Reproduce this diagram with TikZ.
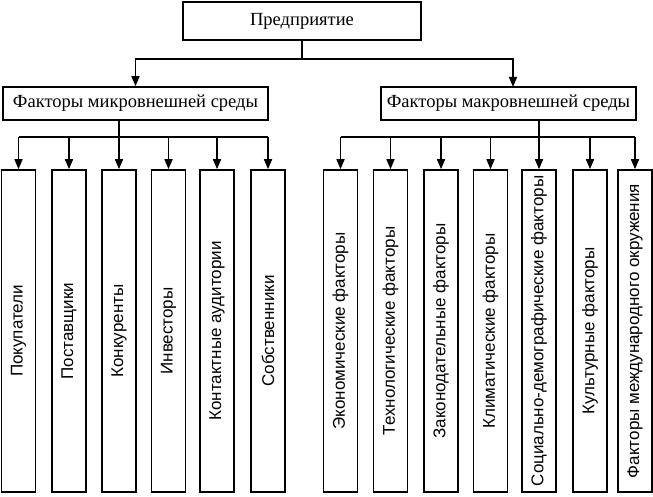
\documentclass[tikz,border=0pt]{standalone}
\usepackage{fontspec}
\setmainfont{Liberation Serif}
\newfontfamily\leaffont{Liberation Sans}
\usetikzlibrary{arrows.meta}

\tikzset{
  headbox/.style={draw, line width=1.6pt, inner sep=0pt, font=\fontsize{18.5}{21}\selectfont},
  leaf/.style={draw, line width=1.6pt, inner sep=0pt, minimum width=34pt, minimum height=322pt,
    font=\leaffont\fontsize{17}{19}\selectfont},
  arr/.style={line width=1.6pt, -{Triangle[width=8pt,length=10pt]}},
  bus/.style={line width=1.6pt}
}

\begin{document}
\begin{tikzpicture}[x=1pt,y=1pt]
  \useasboundingbox (0,0) rectangle (653,496);
  % top level
  \node[headbox, minimum width=238pt, minimum height=38pt] (firm) at (302,475) {Предприятие};
  \node[headbox, minimum width=265pt, minimum height=33pt] (micro) at (135.5,392.5) {Факторы микровнешней среды};
  \node[headbox, minimum width=255pt, minimum height=33pt] (macro) at (508.5,392.5) {Факторы макровнешней среды};
  \coordinate (split) at (302,437);
  \draw[bus] (firm.south) -- (split);
  \draw[arr] (split) -| (micro.north);
  \draw[arr] (split) -| (513,409);
  % micro environment
  \foreach \n/\x/\t in {1/18.5/Покупатели, 2/69/Поставщики, 3/119/Конкуренты,
      4/168.5/Инвесторы, 5/217/Контактные аудитории, 6/268/Собственники}
    \node[leaf] (mi\n) at (\x,165) {\rotatebox{90}{\t}};
  % macro environment
  \foreach \n/\x/\t in {1/340.5/Экономические факторы, 2/390.5/Технологические факторы,
      3/441/Законодательные факторы, 4/490.5/Климатические факторы,
      5/539/Социально-демографические факторы, 6/590/Культурные факторы,
      7/635/Факторы международного окружения}
    \node[leaf] (ma\n) at (\x,165) {\rotatebox{90}{\t}};
  \draw[bus] (micro.south -| mi3.north) -- (mi3.north |- 0,359);
  \draw[bus] (mi1.north |- 0,359) -- (mi6.north |- 0,359);
  \foreach \n in {1,...,6}
    \draw[arr] (mi\n.north |- 0,359) -- (mi\n.north);
  \draw[bus] (macro.south -| ma5.north) -- (ma5.north |- 0,359);
  \draw[bus] (ma1.north |- 0,359) -- (ma7.north |- 0,359);
  \foreach \n in {1,...,7}
    \draw[arr] (ma\n.north |- 0,359) -- (ma\n.north);
\end{tikzpicture}
\end{document}
